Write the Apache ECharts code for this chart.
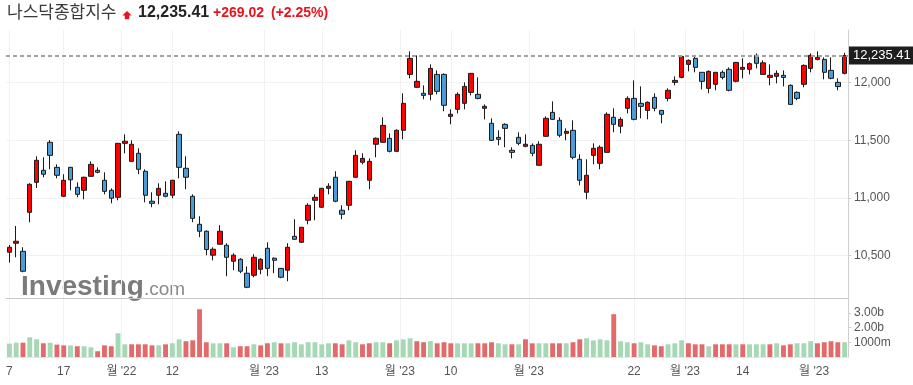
<!DOCTYPE html>
<html>
<head>
<meta charset="utf-8">
<script src="https://cdn.jsdelivr.net/npm/echarts@6/dist/echarts.min.js"></script>
<style>
html,body{margin:0;padding:0;background:#fff;}
#chart{width:913px;height:385px;}
</style>
</head>
<body>
<div id="chart"></div>
<script>
// ---- data (daily candles, 2022-11-07 .. 2023-05-05) ----
const opens = [10530,10608,10538,10876,11136,11240,11483,11266,11015,11266,11093,11067,11188,11240,11154,11067,11006,11474,11318,11388,11232,10972,11024,11041,11024,11552,11258,11015,10772,10712,10504,10599,10590,10452,10469,10348,10330,10382,10564,10478,10390,10374,10668,10616,10807,10980,10920,11084,11180,10894,10937,11180,11310,11154,11466,11483,11518,11405,11587,12072,11960,11908,11899,12072,12072,11708,11769,11821,11916,11899,11778,11648,11526,11639,11414,11526,11448,11457,11284,11535,11743,11674,11561,11587,11336,11050,11370,11301,11396,11700,11622,11778,11864,11821,11760,11873,11760,11864,12003,12046,12159,12211,12090,11951,11986,12090,12116,12012,12116,12116,12237,12072,12046,12055,12064,11977,11916,11986,12124,12202,12202,12107,12003,12081];
const closes = [10573,10625,10365,11119,11327,11206,11370,11197,11154,11158,11032,11180,11292,11223,11058,10998,11474,11492,11466,11249,11024,10954,11084,11015,11154,11266,11180,10824,10712,10553,10556,10712,10486,10504,10365,10226,10486,10469,10390,10460,10313,10573,10642,10746,10937,11006,11084,11102,10972,10859,11145,11370,11344,11318,11518,11630,11405,11587,11821,12211,12012,11890,12124,11925,11804,11726,11899,11968,12081,11864,11795,11500,11509,11604,11396,11474,11466,11388,11466,11691,11682,11544,11578,11353,11154,11197,11431,11440,11726,11639,11682,11864,11682,11795,11830,11778,11726,11934,12020,12228,12194,12133,12012,12098,12090,12046,11934,12176,12133,12165,12168,12172,12064,12081,12046,11812,11864,12150,12237,12220,12090,12038,11966.39,12235.41];
const lows = [10440,10486,10356,10790,11087,11180,11249,11171,11008,11067,11006,10989,11185,11214,11032,10954,10980,11388,11315,11206,10963,10920,10946,11006,10998,11171,11076,10790,10661,10504,10460,10595,10322,10374,10348,10218,10313,10339,10322,10348,10304,10278,10640,10612,10772,10807,10915,11032,10963,10816,10894,11176,11292,11076,11353,11479,11396,11401,11509,12038,11956,11856,11847,11899,11752,11639,11734,11769,11890,11856,11682,11497,11457,11440,11344,11457,11440,11362,11280,11531,11678,11526,11500,11336,11110,10989,11292,11249,11393,11570,11561,11734,11674,11691,11682,11752,11648,11838,11977,12038,12098,12090,11942,11908,11934,12029,11925,12003,12038,12072,12124,12069,11977,11994,11968,11809,11847,11960,12090,12194,12029,12029,11934,12072];
const highs = [10593,10758,10573,11128,11362,11353,11503,11292,11206,11270,11136,11185,11318,11266,11223,11084,11478,11552,11500,11431,11249,11050,11128,11145,11157,11578,11362,11032,10842,10720,10573,10764,10608,10521,10478,10407,10512,10478,10616,10486,10393,10608,10816,10750,10954,11032,11088,11128,11232,10937,11148,11414,11388,11344,11526,11700,11561,11596,11908,12272,12237,11977,12159,12107,12081,11769,11916,12003,12084,12046,11812,11691,11587,11648,11440,11570,11552,11474,11492,11708,11838,11700,11604,11674,11379,11336,11474,11457,11743,11778,11700,11882,12020,11968,11838,11908,11764,11951,12055,12237,12202,12228,12093,12107,12093,12107,12133,12180,12211,12176,12254,12194,12159,12107,12107,11986,11925,12159,12254,12272,12220,12220,12038,12260];
// volume, in billions of shares
const volumesB = [0.91,0.97,0.97,1.34,1.20,0.93,0.97,0.84,0.79,0.79,0.73,0.73,0.66,0.39,0.79,0.73,1.61,0.86,0.86,0.86,0.86,0.79,0.79,0.86,0.93,1.20,1.07,1.13,3.24,1.00,0.93,0.93,0.93,0.66,0.73,0.73,0.86,0.79,0.93,1.00,0.93,0.93,1.00,0.86,1.00,1.00,0.86,0.93,0.93,0.86,1.13,1.00,0.86,0.93,1.00,1.00,0.93,1.13,1.20,1.27,1.07,1.00,1.07,0.93,1.00,0.93,0.93,0.93,0.93,0.93,0.93,1.00,0.93,0.86,0.86,0.86,1.20,0.93,0.93,0.93,0.93,0.93,0.93,1.00,1.20,1.27,1.13,1.20,1.13,2.90,1.07,1.00,0.93,1.00,0.86,0.79,0.73,0.86,0.93,1.13,0.93,0.86,0.86,0.73,0.86,0.86,0.86,0.86,0.86,0.86,0.86,0.86,0.86,0.93,0.79,0.86,0.93,0.93,1.07,0.93,1.00,1.07,1.00,1.00];
// x-axis ticks (candle index positions) and their labels
const xTickValues = [1, 9, 17.5, 25, 38.5, 47, 58.5, 66, 77.5, 93, 100.5, 109, 119.5];
const xTickLabels = ['7', '17', "월 '22", '12', "월 '23", '13', "월 '23", '10', "월 '23", '22', "월 '23", '14', "월 '23"];
const priceTicks = [10500, 11000, 11500, 12000];
const volumeTicks = [1, 2, 3];
const volumeTickLabels = ['1000m', '2.00b', '3.00b'];
const titleName = '나스닥종합지수';
const titlePrice = '12,235.41';
const titleChange = '+269.02';
const titlePct = '(+2.25%)';

// ---- build ----
const N = closes.length;
const candleData = closes.map((c, i) => [i + 1, opens[i], c, lows[i], highs[i]]);
const volData = volumesB.map((v, i) => ({
  value: [i + 1, v],
  itemStyle: { color: (i === 0 || closes[i] >= closes[i - 1]) ? '#a6d8b6' : '#e36a6a' }
}));
const lastClose = closes[N - 1];
const FONT = "'Liberation Sans', Arial, 'Noto Sans CJK KR', sans-serif";
const KFONT = "'Noto Sans CJK KR', 'Liberation Sans', sans-serif";

const chart = echarts.init(document.getElementById('chart'), null, { renderer: 'canvas' });
chart.setOption({
  animation: false,
  backgroundColor: '#ffffff',
  grid: [
    { left: 6, right: 65, top: 30, height: 268 },
    { left: 6, right: 65, top: 298, height: 59 }
  ],
  graphic: [
    { type: 'text', x: 7, y: 12, style: { text: titleName, font: '17px ' + KFONT, fill: '#3a3a3a', verticalAlign: 'middle' } },
    { type: 'polygon', shape: { points: [[127, 11], [131.7, 15.5], [129.2, 15.5], [129.2, 19.3], [124.8, 19.3], [124.8, 15.5], [122.3, 15.5]] }, style: { fill: '#e8141b' } },
    { type: 'text', x: 138, y: 13, style: { text: titlePrice, font: 'bold 16px ' + FONT, fill: '#222', verticalAlign: 'middle' } },
    { type: 'text', x: 213, y: 13, style: { text: titleChange, font: 'bold 14px ' + FONT, fill: '#e8141b', verticalAlign: 'middle' } },
    { type: 'text', x: 271, y: 13, style: { text: titlePct, font: 'bold 14px ' + FONT, fill: '#e8141b', verticalAlign: 'middle' } },
    { type: 'text', z: -10, x: 21, y: 287, style: { text: 'Investing', font: 'bold 28px ' + FONT, fill: '#7b7b7b', verticalAlign: 'middle' } },
    { type: 'text', z: -10, x: 144, y: 290, style: { text: '.com', font: '19px ' + FONT, fill: '#8a8a8a', verticalAlign: 'middle' } }
  ],
  xAxis: [
    {
      type: 'value', gridIndex: 0, min: 0.5, max: N + 0.5,
      axisLine: { show: true, onZero: false, lineStyle: { color: '#c9c9c9' } },
      axisTick: { show: false, customValues: xTickValues },
      axisLabel: { show: false },
      splitLine: { show: true, lineStyle: { color: '#f1f1f1' } }
    },
    {
      type: 'value', gridIndex: 1, min: 0.5, max: N + 0.5,
      axisLine: { show: true, onZero: false, lineStyle: { color: '#e2e6ee' } },
      axisTick: { show: false, customValues: xTickValues },
      axisLabel: {
        customValues: xTickValues, margin: 9, fontSize: 12, color: '#555', fontFamily: FONT,
        formatter: v => { const k = xTickValues.indexOf(v); return k >= 0 ? xTickLabels[k] : ''; }
      },
      splitLine: { show: true, lineStyle: { color: '#f1f1f1' } }
    }
  ],
  yAxis: [
    {
      type: 'value', gridIndex: 0, position: 'right', min: 10133, max: 12457, scale: true,
      axisLine: { show: true, lineStyle: { color: '#cfcfcf' } },
      axisTick: { show: true, length: 3, lineStyle: { color: '#cfcfcf' }, customValues: priceTicks },
      axisLabel: {
        customValues: priceTicks, margin: 6, fontSize: 12, color: '#555', fontFamily: FONT,
        formatter: v => v.toLocaleString('en-US')
      },
      splitLine: { show: true, lineStyle: { color: '#f1f1f1' } }
    },
    {
      type: 'value', gridIndex: 1, position: 'right', min: 0, max: 4,
      axisLine: { show: true, lineStyle: { color: '#cfcfcf' } },
      axisTick: { show: true, length: 3, lineStyle: { color: '#cfcfcf' }, customValues: volumeTicks },
      axisLabel: {
        customValues: volumeTicks, margin: 6, fontSize: 12, color: '#555', fontFamily: FONT,
        formatter: v => { const k = volumeTicks.indexOf(v); return k >= 0 ? volumeTickLabels[k] : ''; }
      },
      splitLine: { show: false }
    }
  ],
  series: [
    {
      type: 'candlestick', xAxisIndex: 0, yAxisIndex: 0,
      data: candleData,
      barWidth: '72%',
      itemStyle: { color: '#ff0000', color0: '#4a9cd8', borderColor: '#1b1b1b', borderColor0: '#1b1b1b', borderWidth: 1 },
      markLine: {
        silent: true, symbol: 'none',
        lineStyle: { color: '#a3a3a3', type: [4, 3], width: 2 },
        label: {
          position: 'end', distance: 1, color: '#fff', backgroundColor: '#1e1e1e',
          fontSize: 13, fontFamily: FONT, padding: [3, 5, 2, 4],
          formatter: p => p.value.toLocaleString('en-US', { minimumFractionDigits: 2, maximumFractionDigits: 2 })
        },
        data: [{ yAxis: lastClose }]
      }
    },
    {
      type: 'bar', xAxisIndex: 1, yAxisIndex: 1,
      data: volData, barWidth: '72%'
    }
  ]
});
</script>
</body>
</html>
